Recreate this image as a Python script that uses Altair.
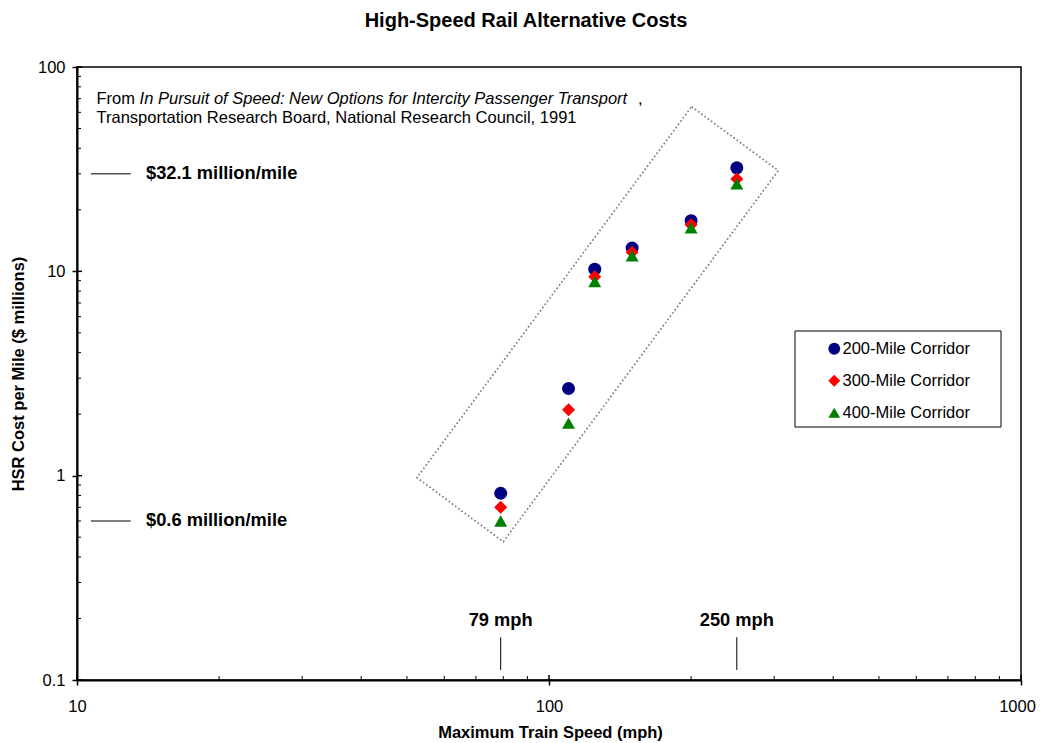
import altair as alt
import pandas as pd

FONT = "Liberation Sans"

# ---- data ----
speeds = [79, 110, 125, 150, 200, 250]
series = ["200-Mile Corridor", "300-Mile Corridor", "400-Mile Corridor"]
cost_200 = [0.82, 2.67, 10.25, 13.0, 17.7, 32.1]
cost_300 = [0.70, 2.10, 9.4, 12.4, 16.9, 28.3]
cost_400 = [0.60, 1.81, 8.9, 11.9, 16.3, 26.8]
colors = ["#000080", "#FF0000", "#008000"]
shapes = ["circle", "diamond", "triangle-up"]

# dotted enclosing box (data coordinates of its corners)
box_x = [200.5, 306, 80, 52.5, 200.5]
box_y = [64, 31.1, 0.475, 0.978, 64]

# annotations
hann_text = ["$32.1 million/mile", "$0.6 million/mile"]
hann_y = [30.0, 0.6]
hann_x1 = [10.7, 10.7]
hann_x2 = [13.0, 13.0]
hann_tx = [14.0, 14.0]

vann_text = ["79 mph", "250 mph"]
vann_x = [79, 250]
vann_y1 = [0.112, 0.112]
vann_y2 = [0.162, 0.162]
vann_ty = [0.195, 0.195]

x_major = [10, 100, 1000]
y_major = [0.1, 1, 10, 100]
x_minor = [20, 30, 40, 50, 60, 70, 80, 90, 200, 300, 400, 500, 600, 700, 800, 900]
y_minor = [0.2, 0.3, 0.4, 0.5, 0.6, 0.7, 0.8, 0.9, 2, 3, 4, 5, 6, 7, 8, 9,
           20, 30, 40, 50, 60, 70, 80, 90]

W, H = 944, 613

rows = []
for s, vals in zip(series, [cost_200, cost_300, cost_400]):
    for sp, v in zip(speeds, vals):
        rows.append({"speed": sp, "cost": v, "series": s})
df = pd.DataFrame(rows)

xs = alt.Scale(type="log", domain=[10, 1000], nice=False)
ys = alt.Scale(type="log", domain=[0.1, 100], nice=False)

legend = alt.Legend(
    title=None, orient="none", legendX=749, legendY=273.5,
    labelFont=FONT, labelFontSize=16.5, labelColor="black",
    symbolSize=140, rowPadding=15, labelOffset=0, padding=0,
    symbolStrokeWidth=0,
)

points = alt.Chart(df).mark_point(filled=True, opacity=1, size=169).encode(
    x=alt.X("speed:Q", scale=xs, title="Maximum Train Speed (mph)",
            axis=alt.Axis(values=x_major, format="~g", grid=False, labelFlush=False,
                          labelOffset={"condition": {"test": "datum.value >= 1000", "value": -4}, "value": 0},
                          tickSize=5, labelPadding=13,
                          titleX=473, titleY=52, titleBaseline="middle")),
    y=alt.Y("cost:Q", scale=ys, title="HSR Cost per Mile ($ millions)",
            axis=alt.Axis(values=y_major, format="~g", grid=False, labelFlush=False,
                          tickSize=5, labelPadding=7,
                          titleX=-59, titleY=306.5, titleAngle=-90,
                          titleAlign="center", titleBaseline="middle")),
    color=alt.Color("series:N", scale=alt.Scale(domain=series, range=colors), legend=legend),
    shape=alt.Shape("series:N", scale=alt.Scale(domain=series, range=shapes), legend=legend),
    order=alt.Order("series:N"),
)

poly = alt.Chart(pd.DataFrame({"bx": box_x, "by": box_y, "i": list(range(len(box_x)))})).mark_line(
    color="#808080", strokeWidth=1.7, strokeDash=[1.7, 2.3]
).encode(x=alt.X("bx:Q", scale=xs), y=alt.Y("by:Q", scale=ys), order="i:Q")

hdf = pd.DataFrame({"t": hann_text, "y": hann_y, "x1": hann_x1, "x2": hann_x2, "tx": hann_tx})
hlines = alt.Chart(hdf).mark_rule(color="black", strokeWidth=1).encode(
    x=alt.X("x1:Q", scale=xs), x2="x2:Q", y=alt.Y("y:Q", scale=ys))
htext = alt.Chart(hdf).mark_text(font=FONT, fontSize=18.3, fontWeight="bold", align="left",
                                 baseline="middle", color="black").encode(
    x=alt.X("tx:Q", scale=xs), y=alt.Y("y:Q", scale=ys), text="t:N")

vdf = pd.DataFrame({"t": vann_text, "x": vann_x, "y1": vann_y1, "y2": vann_y2, "ty": vann_ty})
vlines = alt.Chart(vdf).mark_rule(color="black", strokeWidth=1).encode(
    x=alt.X("x:Q", scale=xs), y=alt.Y("y1:Q", scale=ys), y2="y2:Q")
vtext = alt.Chart(vdf).mark_text(font=FONT, fontSize=18.3, fontWeight="bold", align="center",
                                 baseline="middle", color="black").encode(
    x=alt.X("x:Q", scale=xs), y=alt.Y("ty:Q", scale=ys), text="t:N")

# inward tick marks
xmin_t = alt.Chart(pd.DataFrame({"v": x_minor})).mark_rule(color="black", strokeWidth=1).encode(
    x=alt.X("v:Q", scale=xs), y=alt.value(H), y2=alt.value(H - 4))
xmaj_t = alt.Chart(pd.DataFrame({"v": x_major})).mark_rule(color="black", strokeWidth=1.5).encode(
    x=alt.X("v:Q", scale=xs), y=alt.value(H), y2=alt.value(H - 5))
ymin_t = alt.Chart(pd.DataFrame({"v": y_minor})).mark_rule(color="black", strokeWidth=1).encode(
    y=alt.Y("v:Q", scale=ys), x=alt.value(0), x2=alt.value(4))
ymaj_t = alt.Chart(pd.DataFrame({"v": y_major})).mark_rule(color="black", strokeWidth=1.5).encode(
    y=alt.Y("v:Q", scale=ys), x=alt.value(0), x2=alt.value(5))

# source note
SRC = 16.5
s1 = alt.Chart(pd.DataFrame({"t": ["From"]})).mark_text(
    font=FONT, fontSize=SRC, align="left", baseline="alphabetic", color="black"
).encode(text="t:N", x=alt.value(19.5), y=alt.value(37))
s2 = alt.Chart(pd.DataFrame({"t": ["In Pursuit of Speed: New Options for Intercity Passenger Transport"]})).mark_text(
    font=FONT, fontSize=SRC, fontStyle="italic", align="left", baseline="alphabetic", color="black"
).encode(text="t:N", x=alt.value(62.6), y=alt.value(37))
s3 = alt.Chart(pd.DataFrame({"t": [","]})).mark_text(
    font=FONT, fontSize=SRC, align="left", baseline="alphabetic", color="black"
).encode(text="t:N", x=alt.value(561), y=alt.value(37))
s4 = alt.Chart(pd.DataFrame({"t": ["Transportation Research Board, National Research Council, 1991"]})).mark_text(
    font=FONT, fontSize=SRC, align="left", baseline="alphabetic", color="black"
).encode(text="t:N", x=alt.value(19.5), y=alt.value(56))

# legend frame
lbox = alt.Chart(pd.DataFrame({"k": [0]})).mark_rect(fill="white", stroke="black", strokeWidth=1).encode(
    x=alt.value(718), x2=alt.value(924), y=alt.value(264), y2=alt.value(360))

chart = alt.layer(
    poly, xmin_t, xmaj_t, ymin_t, ymaj_t, hlines, htext, vlines, vtext,
    s1, s2, s3, s4, lbox, points
).properties(
    width=W, height=H,
    title=alt.TitleParams("High-Speed Rail Alternative Costs", font=FONT, fontSize=20,
                          fontWeight="bold", anchor="middle", dx=-23, offset=28, color="black"),
    autosize=alt.AutoSizeParams(type="none"),
    padding={"left": 69, "top": 59, "right": 15, "bottom": 62},
).configure_view(
    stroke="black", strokeWidth=1.5
).configure_axis(
    labelFont=FONT, labelFontSize=16.5, labelColor="black",
    titleFont=FONT, titleFontSize=16.5, titleFontWeight="bold", titleColor="black",
    domainColor="black", domainWidth=2, tickColor="black", tickWidth=1.5,
)

chart.save("out.html", embed_options={"renderer": "svg", "actions": False})
